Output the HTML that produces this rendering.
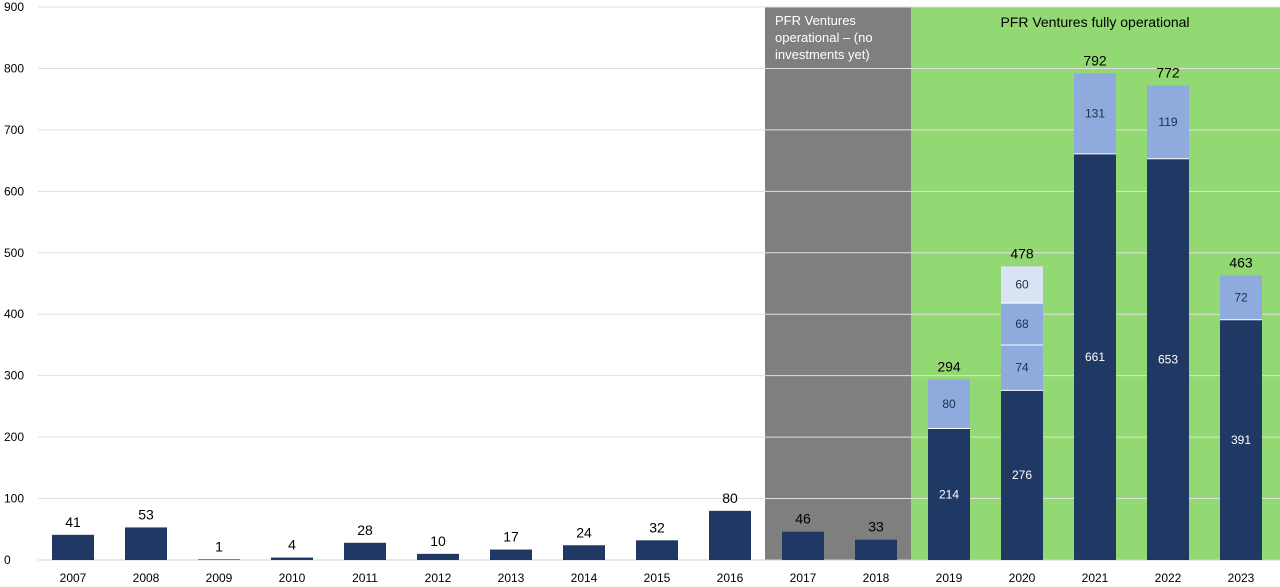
<!DOCTYPE html>
<html><head><meta charset="utf-8"><style>
body{margin:0;background:#fff;font-family:"Liberation Sans",sans-serif}
svg{display:block}
</style></head><body>
<svg id="c" width="1280" height="587"></svg>
<script>
const years=["2007","2008","2009","2010","2011","2012","2013","2014","2015","2016","2017","2018","2019","2020","2021","2022","2023"];
const seriesA=[41,53,1,4,28,10,17,24,32,80,46,33,214,276,661,653,391];
const seriesB=[0,0,0,0,0,0,0,0,0,0,0,0,80,74,131,119,72];
const seriesC=[0,0,0,0,0,0,0,0,0,0,0,0,0,68,0,0,0];
const seriesD=[0,0,0,0,0,0,0,0,0,0,0,0,0,60,0,0,0];
const yTicks=[0,100,200,300,400,500,600,700,800,900];
const NS="http://www.w3.org/2000/svg";
const svg=document.getElementById('c');
const y0=560,yTop=7,yMax=900;
const y=v=>y0-(y0-yTop)*v/yMax;
const x=i=>73+i*73;
const bw=42;
function mk(t,a,p){const e=document.createElementNS(NS,t);for(const k in a)e.setAttribute(k,a[k]);(p||svg).appendChild(e);return e;}
// regions
let g=mk('rect',{x:765,y:y(900),width:146,height:y0-y(900),fill:'#7f7f7f'});


g=mk('rect',{x:911,y:y(900),width:369,height:y0-y(900),fill:'#92d873'});


// grid
yTicks.forEach(v=>{
 const l=mk('line',{x1:38,x2:1280,y1:y(v),y2:y(v),stroke:v===0?'#d0d0d0':'#e0e0e0','stroke-width':1});
 
 
 const t=mk('text',{x:4,y:y(v)+4,'font-size':12,fill:'#000'});t.textContent=v;
 
 
});
// region labels
let t=mk('text',{x:775,'font-size':13,fill:'#fff'});
['PFR Ventures','operational – (no','investments yet)'].forEach((s,i)=>{const ts=mk('tspan',{x:775,y:25+i*17},t);ts.textContent=s;});


t=mk('text',{x:1095,y:27,'font-size':14,fill:'#000','text-anchor':'middle'});t.textContent='PFR Ventures fully  operational';


const cols=['#1f3864','#8faadc','#8faadc','#dae3f3'];
const txtc=['#fff','#1f2f4f','#1f2f4f','#1f2f4f'];
years.forEach((yr,i)=>{
 const vals=[seriesA[i],seriesB[i],seriesC[i],seriesD[i]];
 let base=0;
 vals.forEach((v,s)=>{
  if(!v)return;
  const r=mk('rect',{x:x(i)-bw/2,y:y(base+v),width:bw,height:y(base)-y(base+v),fill:cols[s]});
  
  
  if(s>0){const ln=mk('line',{x1:x(i)-bw/2,x2:x(i)+bw/2,y1:y(base),y2:y(base),stroke:'#fff','stroke-width':1});}
  if(i>=12){const lt=mk('text',{x:x(i),y:(y(base)+y(base+v))/2+4,'font-size':12,fill:txtc[s],'text-anchor':'middle'});lt.textContent=v;
   
   }
  base+=v;
 });
 const tl=mk('text',{x:x(i),y:y(base)-8,'font-size':14,fill:'#000','text-anchor':'middle'});tl.textContent=base;
 
 
 const xl=mk('text',{x:x(i),y:582,'font-size':12,fill:'#000','text-anchor':'middle'});xl.textContent=yr;
 
 
});
</script>
</body></html>
